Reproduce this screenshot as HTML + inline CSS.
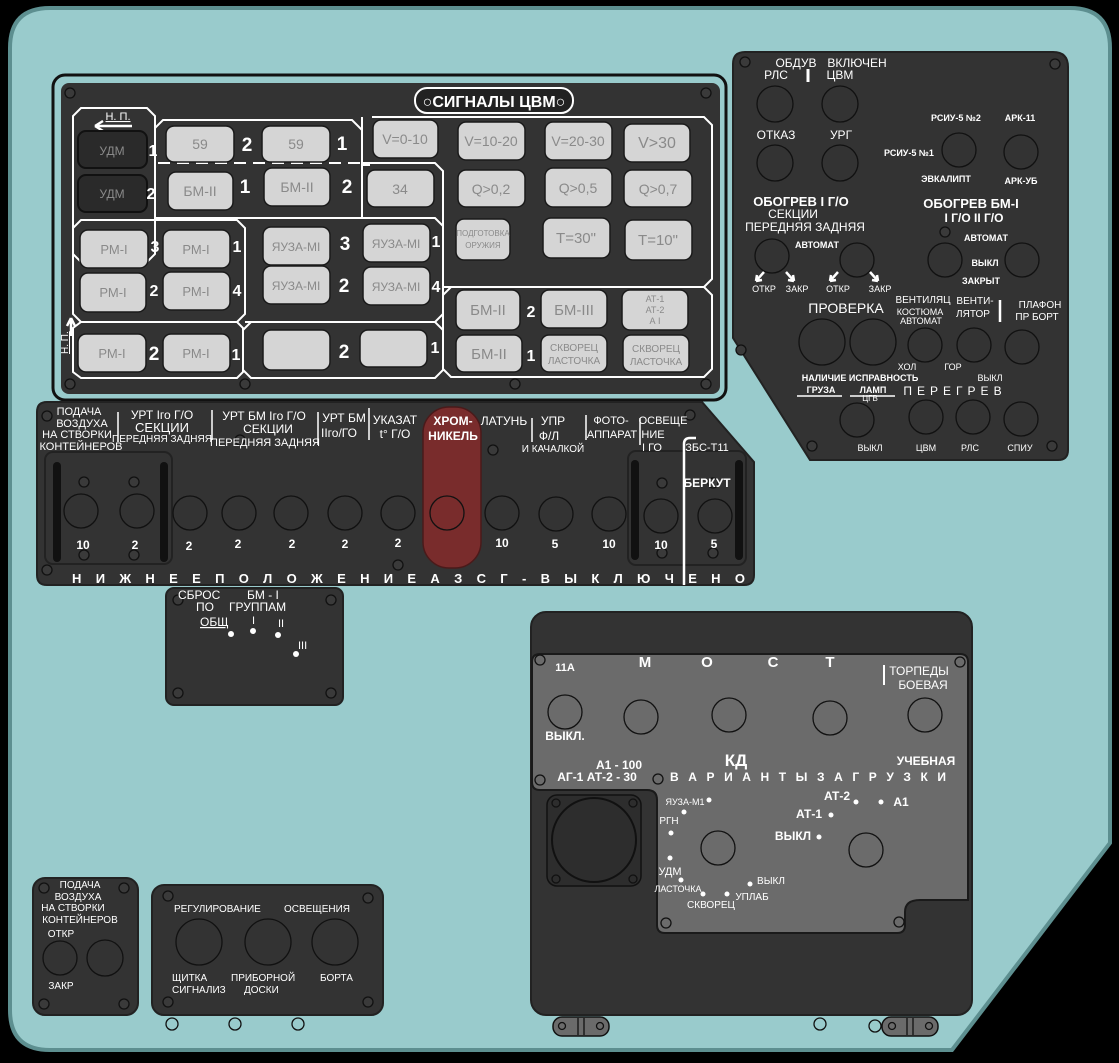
<!DOCTYPE html>
<html><head><meta charset="utf-8"><style>
html,body{margin:0;padding:0;background:#000;}
svg{display:block;}
text{font-family:"Liberation Sans","DejaVu Sans",sans-serif;}
.w{fill:#fff;}
.b{fill:#fff;font-weight:bold;}
.g{fill:#8a8a8a;}
.btn{fill:#d5d5d5;stroke:#1a1a1a;stroke-width:1.5;}
.dbtn{fill:#2a2a2a;stroke:#111;stroke-width:2;}
.k{fill:none;stroke:#111;stroke-width:1.3;}
.sc{fill:#3a3a3a;stroke:#111;stroke-width:1.3;}
.wl{fill:none;stroke:#fff;stroke-width:2;}
</style></head><body>
<svg width="1119" height="1063" viewBox="0 0 1119 1063" xmlns="http://www.w3.org/2000/svg">
<rect width="1119" height="1063" fill="#000"/>
<path d="M50,8 H1070 Q1110,8 1110,48 V843 L952,1050 H50 Q10,1050 10,1010 V48 Q10,8 50,8 Z" fill="#99cbcc" stroke="#5d8f90" stroke-width="4"/>

<!-- SIGNAL PANEL -->
<rect x="53" y="75" width="673" height="325" rx="12" fill="#99cbcc" stroke="#111" stroke-width="3"/>
<rect x="61" y="83" width="659" height="311" rx="8" fill="#333"/>
<g class="sc"><circle cx="70" cy="93" r="5"/><circle cx="706" cy="93" r="5"/><circle cx="70" cy="384" r="5"/><circle cx="706" cy="384" r="5"/><circle cx="245" cy="384" r="5"/><circle cx="515" cy="384" r="5"/></g>
<rect x="415" y="88" width="158" height="25" rx="12" fill="#222" stroke="#fff" stroke-width="2"/>
<text x="494" y="107" class="b" font-size="16" text-anchor="middle">○СИГНАЛЫ ЦВМ○</text>

<g class="wl">
<path d="M81,108 H147 L155,116 V254 L147,262 H81 L73,254 V116 Z"/>
<path d="M163,120 H352 L362,130 V218 H155 V128 Z"/>
<path d="M372,117 H704 L712,125 V279 L704,287 H443"/>
<path d="M362,163 H435 L443,171 V287"/>
<path d="M81,220 H237 L245,228 V314 L237,322 H81 L73,314 V228 Z"/>
<path d="M245,218 H435 L443,226 V314 L435,322 H245"/>
<path d="M451,287 H704 L712,295 V369 L704,377 H451 L443,369 V295 Z"/>
<path d="M81,322 H237 L243,328 V372 L237,378 H81 L73,372 V328 Z"/>
<path d="M251,322 H435 L443,330 V370 L435,378 H251 L243,370 V330 Z"/>
<path d="M362,130 V117" />
</g>
<line x1="158" y1="163" x2="362" y2="163" stroke="#fff" stroke-width="2" stroke-dasharray="12,7"/>
<line x1="362" y1="165" x2="370" y2="165" stroke="#fff" stroke-width="2"/>
<text x="118" y="120" class="w" font-size="11" text-anchor="middle" text-decoration="underline">Н. П.</text>
<path d="M95,126 H132 M95,126 L103,121 M95,126 L103,131" stroke="#fff" stroke-width="2.5" fill="none"/>
<text x="68" y="354" class="w" font-size="10" transform="rotate(-90 68 354)" text-decoration="underline">Н. П.</text>
<path d="M71,336 V318 M71,318 L67,326 M71,318 L75,326" stroke="#fff" stroke-width="2.5" fill="none"/>

<g>
<rect class="dbtn" x="78" y="131" width="69" height="37" rx="8"/><text x="112" y="155" class="g" font-size="12" text-anchor="middle">УДМ</text>
<rect class="dbtn" x="78" y="175" width="69" height="37" rx="8"/><text x="112" y="198" class="g" font-size="12" text-anchor="middle">УДМ</text>
<text x="153" y="156" class="b" font-size="16" text-anchor="middle">1</text>
<text x="151" y="199" class="b" font-size="16" text-anchor="middle">2</text>
</g>
<g font-size="14" text-anchor="middle">
<rect class="btn" x="166" y="126" width="68" height="36" rx="8"/><text x="200" y="149" class="g">59</text>
<rect class="btn" x="262" y="126" width="68" height="36" rx="8"/><text x="296" y="149" class="g">59</text>
<rect class="btn" x="168" y="172" width="65" height="38" rx="8"/><text x="200" y="196" class="g">БМ-II</text>
<rect class="btn" x="264" y="168" width="66" height="38" rx="8"/><text x="297" y="192" class="g">БМ-II</text>
<rect class="btn" x="367" y="170" width="67" height="37" rx="8"/><text x="400" y="194" class="g">34</text>
<rect class="btn" x="373" y="120" width="65" height="38" rx="8"/><text x="405" y="144" class="g">V=0-10</text>
<rect class="btn" x="458" y="122" width="67" height="38" rx="8"/><text x="491" y="146" class="g">V=10-20</text>
<rect class="btn" x="545" y="122" width="67" height="38" rx="8"/><text x="578" y="146" class="g">V=20-30</text>
<rect class="btn" x="624" y="124" width="66" height="38" rx="8"/><text x="657" y="148" class="g" font-size="16">V&gt;30</text>
<rect class="btn" x="458" y="170" width="67" height="37" rx="8"/><text x="491" y="194" class="g">Q&gt;0,2</text>
<rect class="btn" x="545" y="168" width="67" height="39" rx="8"/><text x="578" y="193" class="g">Q&gt;0,5</text>
<rect class="btn" x="624" y="170" width="68" height="37" rx="8"/><text x="658" y="194" class="g">Q&gt;0,7</text>
<rect class="btn" x="456" y="219" width="54" height="41" rx="8"/><text x="483" y="236" class="g" font-size="8">ПОДГОТОВКА</text><text x="483" y="248" class="g" font-size="8">ОРУЖИЯ</text>
<rect class="btn" x="543" y="218" width="67" height="40" rx="8"/><text x="576" y="243" class="g" font-size="15">T=30"</text>
<rect class="btn" x="625" y="220" width="67" height="40" rx="8"/><text x="658" y="245" class="g" font-size="15">T=10"</text>
<rect class="btn" x="80" y="230" width="68" height="38" rx="8"/><text x="114" y="254" class="g" font-size="13">РМ-I</text>
<rect class="btn" x="163" y="230" width="67" height="38" rx="8"/><text x="196" y="254" class="g" font-size="13">РМ-I</text>
<rect class="btn" x="80" y="273" width="66" height="39" rx="8"/><text x="113" y="297" class="g" font-size="13">РМ-I</text>
<rect class="btn" x="163" y="272" width="67" height="38" rx="8"/><text x="196" y="296" class="g" font-size="13">РМ-I</text>
<rect class="btn" x="263" y="227" width="67" height="38" rx="8"/><text x="296" y="251" class="g" font-size="12">ЯУЗА-МI</text>
<rect class="btn" x="363" y="224" width="67" height="38" rx="8"/><text x="396" y="248" class="g" font-size="12">ЯУЗА-МI</text>
<rect class="btn" x="263" y="266" width="67" height="38" rx="8"/><text x="296" y="290" class="g" font-size="12">ЯУЗА-МI</text>
<rect class="btn" x="363" y="267" width="67" height="38" rx="8"/><text x="396" y="291" class="g" font-size="12">ЯУЗА-МI</text>
<rect class="btn" x="456" y="290" width="64" height="40" rx="8"/><text x="488" y="315" class="g" font-size="15">БМ-II</text>
<rect class="btn" x="541" y="290" width="66" height="38" rx="8"/><text x="574" y="315" class="g" font-size="15">БМ-III</text>
<rect class="btn" x="622" y="290" width="66" height="40" rx="8"/><text x="655" y="302" class="g" font-size="9">АТ-1</text><text x="655" y="313" class="g" font-size="9">АТ-2</text><text x="655" y="324" class="g" font-size="9">А I</text>
<rect class="btn" x="456" y="335" width="66" height="37" rx="8"/><text x="489" y="359" class="g" font-size="15">БМ-II</text>
<rect class="btn" x="541" y="335" width="66" height="37" rx="8"/><text x="574" y="351" class="g" font-size="10">СКВОРЕЦ</text><text x="574" y="364" class="g" font-size="10">ЛАСТОЧКА</text>
<rect class="btn" x="623" y="335" width="66" height="37" rx="8"/><text x="656" y="352" class="g" font-size="10">СКВОРЕЦ</text><text x="656" y="365" class="g" font-size="10">ЛАСТОЧКА</text>
<rect class="btn" x="78" y="334" width="68" height="38" rx="8"/><text x="112" y="358" class="g" font-size="13">РМ-I</text>
<rect class="btn" x="163" y="334" width="67" height="38" rx="8"/><text x="196" y="358" class="g" font-size="13">РМ-I</text>
<rect class="btn" x="263" y="330" width="67" height="40" rx="8"/>
<rect class="btn" x="360" y="330" width="67" height="37" rx="8"/>
</g>
<g class="b" font-size="19" text-anchor="middle">
<text x="247" y="151">2</text><text x="342" y="150">1</text>
<text x="245" y="193">1</text><text x="347" y="193">2</text>
<text x="155" y="252" font-size="16">3</text><text x="237" y="252" font-size="16">1</text>
<text x="154" y="296" font-size="16">2</text><text x="237" y="296" font-size="16">4</text>
<text x="345" y="250">3</text><text x="436" y="247" font-size="16">1</text>
<text x="344" y="292">2</text><text x="436" y="292" font-size="16">4</text>
<text x="531" y="317" font-size="16">2</text><text x="531" y="361" font-size="16">1</text>
<text x="154" y="360">2</text><text x="236" y="360" font-size="16">1</text>
<text x="344" y="358">2</text><text x="435" y="353" font-size="16">1</text>
</g>

<!-- MIDDLE STRIP -->
<path d="M47,402 H702 L754,462 V575 Q754,585 744,585 H47 Q37,585 37,575 V412 Q37,402 47,402 Z" fill="#333" stroke="#222" stroke-width="2"/>
<rect x="423" y="407" width="58" height="161" rx="26" fill="#792c2c" stroke="#4a1a1a" stroke-width="1.5"/>
<rect x="45" y="452" width="127" height="112" rx="8" fill="none" stroke="#222" stroke-width="2"/>
<rect x="628" y="451" width="118" height="114" rx="8" fill="none" stroke="#222" stroke-width="2"/>
<g fill="#111"><rect x="53" y="462" width="8" height="100" rx="4"/><rect x="160" y="462" width="8" height="100" rx="4"/><rect x="631" y="460" width="8" height="100" rx="4"/><rect x="735" y="460" width="8" height="100" rx="4"/></g>
<g class="sc"><circle cx="47" cy="416" r="5"/><circle cx="690" cy="415" r="5"/><circle cx="47" cy="570" r="5"/><circle cx="84" cy="482" r="5"/><circle cx="134" cy="482" r="5"/><circle cx="84" cy="555" r="5"/><circle cx="134" cy="555" r="5"/><circle cx="240" cy="440" r="5"/><circle cx="493" cy="450" r="5"/><circle cx="398" cy="565" r="5"/><circle cx="662" cy="483" r="5"/><circle cx="713" cy="483" r="5"/><circle cx="662" cy="553" r="5"/><circle cx="713" cy="553" r="5"/></g>
<g class="k" stroke-width="1.5">
<circle cx="81" cy="511" r="17"/><circle cx="137" cy="511" r="17"/><circle cx="190" cy="513" r="17"/><circle cx="239" cy="513" r="17"/><circle cx="291" cy="513" r="17"/><circle cx="345" cy="513" r="17"/><circle cx="398" cy="513" r="17"/><circle cx="447" cy="513" r="17"/><circle cx="502" cy="513" r="17"/><circle cx="556" cy="514" r="17"/><circle cx="609" cy="514" r="17"/><circle cx="661" cy="516" r="17"/><circle cx="715" cy="516" r="17"/>
</g>
<g class="b" font-size="12" text-anchor="middle">
<text x="83" y="549">10</text><text x="135" y="549">2</text><text x="189" y="550">2</text><text x="238" y="548">2</text><text x="292" y="548">2</text><text x="345" y="548">2</text><text x="398" y="547">2</text><text x="502" y="547">10</text><text x="555" y="548">5</text><text x="609" y="548">10</text><text x="661" y="549">10</text><text x="714" y="548">5</text>
</g>
<g class="w" font-size="11" text-anchor="middle">
<text x="79" y="415">ПОДАЧА</text><text x="82" y="427">ВОЗДУХА</text><text x="77" y="438">НА СТВОРКИ</text><text x="81" y="450">КОНТЕЙНЕРОВ</text>
<text x="162" y="419" font-size="12">УРТ Iго Г/О</text><text x="162" y="432" font-size="13">СЕКЦИИ</text><text x="162" y="442" font-size="10">ПЕРЕДНЯЯ ЗАДНЯЯ</text>
<text x="264" y="420" font-size="12">УРТ БМ Iго Г/О</text><text x="268" y="433" font-size="12">СЕКЦИИ</text><text x="265" y="446" font-size="11">ПЕРЕДНЯЯ ЗАДНЯЯ</text>
<text x="344" y="422" font-size="12">УРТ БМ</text><text x="339" y="437" font-size="12">IIго/ГО</text>
<text x="395" y="424" font-size="12">УКАЗАТ</text><text x="395" y="438" font-size="12">t° Г/О</text>
<text x="453" y="425" class="b" font-size="12">ХРОМ-</text><text x="453" y="440" class="b" font-size="12">НИКЕЛЬ</text>
<text x="504" y="425" font-size="12">ЛАТУНЬ</text>
<text x="553" y="425" font-size="12">УПР</text><text x="549" y="440" font-size="12">Ф/Л</text><text x="553" y="452" font-size="10">И КАЧАЛКОЙ</text>
<text x="611" y="424" font-size="11">ФОТО-</text><text x="612" y="438" font-size="11">АППАРАТ</text>
<text x="663" y="424" font-size="11">ОСВЕЩЕ</text><text x="653" y="438" font-size="11">НИЕ</text><text x="652" y="451" font-size="11">I ГО</text>
<text x="707" y="451" font-size="11">ЗБС-Т11</text>
<text x="707" y="487" class="b" font-size="12">БЕРКУТ</text>
</g>
<g stroke="#fff" stroke-width="1.5"><line x1="118" y1="412" x2="118" y2="442"/><line x1="212" y1="410" x2="212" y2="440"/><line x1="318" y1="412" x2="318" y2="445"/><line x1="369" y1="408" x2="369" y2="440"/><line x1="532" y1="418" x2="532" y2="442"/><line x1="586" y1="415" x2="586" y2="440"/><line x1="640" y1="418" x2="640" y2="445"/></g>
<path d="M684,585 V444 Q684,438 690,438 H696" stroke="#fff" stroke-width="2.5" fill="none"/>
<text x="72" y="583" class="b" font-size="13" textLength="673" lengthAdjust="spacing">Н И Ж Н Е Е   П О Л О Ж Е Н И Е   А З С Г - В Ы К Л Ю Ч Е Н О</text>

<!-- СБРОС -->
<rect x="166" y="588" width="177" height="117" rx="8" fill="#333" stroke="#222" stroke-width="2"/>
<g class="sc"><circle cx="178" cy="600" r="5"/><circle cx="331" cy="600" r="5"/><circle cx="178" cy="693" r="5"/><circle cx="331" cy="693" r="5"/></g>
<g class="w" font-size="12">
<text x="178" y="599">СБРОС</text><text x="247" y="599">БМ - I</text>
<text x="196" y="611">ПО</text><text x="229" y="611">ГРУППАМ</text>
<text x="200" y="626" text-decoration="underline">ОБЩ</text>
<text x="252" y="624" font-size="11">I</text><text x="278" y="627" font-size="11">II</text><text x="298" y="649" font-size="11">III</text>
</g>
<g class="w"><circle cx="231" cy="634" r="3"/><circle cx="253" cy="631" r="3"/><circle cx="278" cy="635" r="3"/><circle cx="296" cy="654" r="3"/></g>

<!-- RIGHT TOP PANEL -->
<path d="M745,52 H1053 Q1068,52 1068,67 V450 Q1068,460 1058,460 H810 L733,338 V64 Q733,52 745,52 Z" fill="#333" stroke="#222" stroke-width="2"/>
<g class="sc"><circle cx="745" cy="62" r="5"/><circle cx="1055" cy="64" r="5"/><circle cx="741" cy="350" r="5"/><circle cx="812" cy="446" r="5"/><circle cx="1052" cy="446" r="5"/><circle cx="945" cy="232" r="5"/></g>
<g class="k">
<circle cx="775" cy="104" r="18"/><circle cx="840" cy="104" r="18"/><circle cx="775" cy="163" r="18"/><circle cx="840" cy="163" r="18"/>
<circle cx="959" cy="150" r="17"/><circle cx="1021" cy="152" r="17"/>
<circle cx="772" cy="256" r="17"/><circle cx="857" cy="260" r="17"/><circle cx="945" cy="260" r="17"/><circle cx="1022" cy="260" r="17"/>
<circle cx="822" cy="342" r="23"/><circle cx="873" cy="342" r="23"/><circle cx="925" cy="345" r="17"/><circle cx="974" cy="345" r="17"/><circle cx="1022" cy="347" r="17"/>
<circle cx="857" cy="420" r="17"/><circle cx="926" cy="417" r="17"/><circle cx="973" cy="417" r="17"/><circle cx="1021" cy="419" r="17"/>
</g>
<g class="w" font-size="12" text-anchor="middle">
<text x="796" y="67">ОБДУВ</text><text x="857" y="67">ВКЛЮЧЕН</text>
<text x="776" y="79">РЛС</text><text x="840" y="79">ЦВМ</text>
<text x="776" y="139">ОТКАЗ</text><text x="841" y="139">УРГ</text>
<text x="956" y="121" class="b" font-size="9">РСИУ-5 №2</text><text x="1020" y="121" class="b" font-size="9">АРК-11</text>
<text x="909" y="156" class="b" font-size="9">РСИУ-5 №1</text>
<text x="946" y="182" class="b" font-size="9">ЭВКАЛИПТ</text><text x="1021" y="184" class="b" font-size="9">АРК-УБ</text>
<text x="801" y="206" class="b" font-size="13">ОБОГРЕВ I   Г/О</text>
<text x="793" y="218" font-size="12">СЕКЦИИ</text>
<text x="805" y="231" font-size="12">ПЕРЕДНЯЯ    ЗАДНЯЯ</text>
<text x="817" y="248" class="b" font-size="9">АВТОМАТ</text>
<text x="971" y="208" class="b" font-size="13">ОБОГРЕВ   БМ-I</text>
<text x="974" y="222" class="b" font-size="12">I Г/О      II Г/О</text>
<text x="986" y="241" class="b" font-size="9">АВТОМАТ</text>
<text x="985" y="266" class="b" font-size="9">ВЫКЛ</text>
<text x="981" y="284" class="b" font-size="9">ЗАКРЫТ</text>
<text x="764" y="292" font-size="9">ОТКР</text><text x="797" y="292" font-size="9">ЗАКР</text><text x="838" y="292" font-size="9">ОТКР</text><text x="880" y="292" font-size="9">ЗАКР</text>
<text x="846" y="313" font-size="14">ПРОВЕРКА</text>
<text x="923" y="303" font-size="10">ВЕНТИЛЯЦ</text><text x="920" y="315" font-size="9">КОСТЮМА</text><text x="921" y="324" font-size="9">АВТОМАТ</text>
<text x="975" y="304" font-size="10">ВЕНТИ-</text><text x="973" y="317" font-size="10">ЛЯТОР</text>
<text x="1040" y="308" font-size="10">ПЛАФОН</text><text x="1037" y="320" font-size="10">ПР БОРТ</text>
<text x="907" y="370" font-size="9">ХОЛ</text><text x="953" y="370" font-size="9">ГОР</text>
<text x="860" y="381" class="b" font-size="9">НАЛИЧИЕ ИСПРАВНОСТЬ</text>
<text x="821" y="393" class="b" font-size="9">ГРУЗА</text><text x="873" y="393" class="b" font-size="9">ЛАМП</text><text x="870" y="401" font-size="8">ЦГВ</text>
<text x="990" y="381" font-size="9">ВЫКЛ</text>
<text x="955" y="395" font-size="12" letter-spacing="5">ПЕРЕГРЕВ</text>
<text x="870" y="451" font-size="9">ВЫКЛ</text><text x="926" y="451" font-size="9">ЦВМ</text><text x="970" y="451" font-size="9">РЛС</text><text x="1020" y="451" font-size="9">СПИУ</text>
</g>
<g stroke="#fff" stroke-width="1.5"><line x1="808" y1="69" x2="808" y2="82" stroke-width="3"/><line x1="1000" y1="300" x2="1000" y2="322" stroke-width="2.5"/><line x1="797" y1="396" x2="842" y2="396"/><line x1="850" y1="396" x2="895" y2="396"/></g>
<g stroke="#fff" stroke-width="2.5" fill="#fff">
<path d="M764,272 L756,281 M756,281 l1,-6 M756,281 l6,-1"/>
<path d="M786,272 L794,281 M794,281 l-1,-6 M794,281 l-6,-1"/>
<path d="M838,272 L830,281 M830,281 l1,-6 M830,281 l6,-1"/>
<path d="M870,272 L878,281 M878,281 l-1,-6 M878,281 l-6,-1"/>
</g>

<!-- BOTTOM RIGHT PANEL -->
<rect x="531" y="612" width="441" height="403" rx="15" fill="#333" stroke="#222" stroke-width="2"/>
<path d="M540,654 H960 Q968,654 968,662 V900 H920 Q905,900 905,912 V925 Q905,933 897,933 H665 Q657,933 657,925 V800 Q657,790 647,790 H540 Q532,790 532,782 V662 Q532,654 540,654 Z" fill="#6b6b6b" stroke="#1a1a1a" stroke-width="2"/>
<g class="sc" fill="#6b6b6b"><circle cx="540" cy="660" r="5" fill="#6b6b6b"/><circle cx="540" cy="780" r="5" fill="#6b6b6b"/><circle cx="658" cy="779" r="5" fill="#6b6b6b"/><circle cx="960" cy="662" r="5" fill="#6b6b6b"/><circle cx="666" cy="923" r="5" fill="#6b6b6b"/><circle cx="899" cy="922" r="5" fill="#6b6b6b"/></g>
<rect x="547" y="795" width="94" height="91" rx="10" fill="#2d2d2d" stroke="#111" stroke-width="1.5"/>
<circle cx="594" cy="840" r="42" fill="#2d2d2d" stroke="#111" stroke-width="2"/>
<g class="k"><circle cx="556" cy="803" r="4"/><circle cx="633" cy="803" r="4"/><circle cx="556" cy="879" r="4"/><circle cx="633" cy="879" r="4"/></g>
<g class="k">
<circle cx="565" cy="712" r="17"/><circle cx="641" cy="717" r="17"/><circle cx="729" cy="715" r="17"/><circle cx="830" cy="718" r="17"/><circle cx="925" cy="715" r="17"/>
<circle cx="718" cy="848" r="17"/><circle cx="866" cy="850" r="17"/>
</g>
<g class="w" text-anchor="middle">
<text x="565" y="671" class="b" font-size="11">11A</text>
<text x="645" y="667" class="b" font-size="15">М</text><text x="707" y="667" class="b" font-size="15">О</text><text x="773" y="667" class="b" font-size="15">С</text><text x="830" y="667" class="b" font-size="15">Т</text>
<text x="919" y="675" font-size="12">ТОРПЕДЫ</text><text x="923" y="689" font-size="12">БОЕВАЯ</text>
<text x="565" y="740" class="b" font-size="12">ВЫКЛ.</text>
<text x="619" y="769" class="b" font-size="12">А1 - 100</text>
<text x="597" y="781" class="b" font-size="12">АГ-1 АТ-2 - 30</text>
<text x="736" y="766" class="b" font-size="17">КД</text>
<text x="926" y="765" class="b" font-size="12">УЧЕБНАЯ</text>
<text x="837" y="800" class="b" font-size="12">АТ-2</text><text x="901" y="806" class="b" font-size="12">А1</text>
<text x="809" y="818" class="b" font-size="12">АТ-1</text><text x="793" y="840" class="b" font-size="12">ВЫКЛ</text>
<text x="685" y="805" font-size="9">ЯУЗА-М1</text><text x="669" y="824" font-size="10">РГН</text>
<text x="670" y="875" font-size="11">УДМ</text><text x="678" y="892" font-size="9">ЛАСТОЧКА</text>
<text x="711" y="908" font-size="10">СКВОРЕЦ</text><text x="752" y="900" font-size="10">УПЛАБ</text><text x="771" y="884" font-size="10">ВЫКЛ</text>
</g>
<text x="670" y="781" class="b" font-size="12" textLength="276" lengthAdjust="spacing">В А Р И А Н Т Ы   З А Г Р У З К И</text>
<line x1="884" y1="665" x2="884" y2="685" stroke="#fff" stroke-width="2"/>
<g class="w"><circle cx="709" cy="800" r="2.5"/><circle cx="684" cy="812" r="2.5"/><circle cx="671" cy="833" r="2.5"/><circle cx="670" cy="858" r="2.5"/><circle cx="681" cy="880" r="2.5"/><circle cx="703" cy="894" r="2.5"/><circle cx="727" cy="894" r="2.5"/><circle cx="750" cy="884" r="2.5"/><circle cx="856" cy="802" r="2.5"/><circle cx="881" cy="802" r="2.5"/><circle cx="831" cy="815" r="2.5"/><circle cx="819" cy="837" r="2.5"/></g>

<!-- hinges -->
<g>
<rect x="553" y="1017" width="56" height="19" rx="9" fill="#6b6b6b" stroke="#111" stroke-width="1.5"/><circle cx="562" cy="1026" r="3.5" class="k"/><circle cx="600" cy="1026" r="3.5" class="k"/><line x1="578" y1="1018" x2="578" y2="1035" stroke="#111" stroke-width="1.3"/><line x1="584" y1="1018" x2="584" y2="1035" stroke="#111" stroke-width="1.3"/>
<rect x="882" y="1017" width="56" height="19" rx="9" fill="#6b6b6b" stroke="#111" stroke-width="1.5"/><circle cx="892" cy="1026" r="3.5" class="k"/><circle cx="929" cy="1026" r="3.5" class="k"/><line x1="907" y1="1018" x2="907" y2="1035" stroke="#111" stroke-width="1.3"/><line x1="913" y1="1018" x2="913" y2="1035" stroke="#111" stroke-width="1.3"/>
<circle cx="820" cy="1024" r="6" class="k" stroke-width="1.8"/><circle cx="875" cy="1026" r="6" class="k" stroke-width="1.8"/>
</g>

<!-- BOTTOM LEFT -->
<rect x="33" y="878" width="105" height="137" rx="12" fill="#333" stroke="#222" stroke-width="2"/>
<g class="sc"><circle cx="44" cy="888" r="5"/><circle cx="124" cy="888" r="5"/><circle cx="44" cy="1004" r="5"/><circle cx="124" cy="1004" r="5"/></g>
<g class="k"><circle cx="60" cy="958" r="17"/><circle cx="105" cy="958" r="18"/></g>
<g class="w" font-size="10" text-anchor="middle">
<text x="80" y="888">ПОДАЧА</text><text x="78" y="900">ВОЗДУХА</text><text x="73" y="911">НА СТВОРКИ</text><text x="80" y="923">КОНТЕЙНЕРОВ</text>
<text x="61" y="937">ОТКР</text><text x="61" y="989">ЗАКР</text>
</g>
<rect x="152" y="885" width="231" height="130" rx="12" fill="#333" stroke="#222" stroke-width="2"/>
<g class="sc"><circle cx="168" cy="896" r="5"/><circle cx="368" cy="898" r="5"/><circle cx="168" cy="1002" r="5"/><circle cx="368" cy="1002" r="5"/></g>
<g class="k"><circle cx="199" cy="942" r="23"/><circle cx="268" cy="942" r="23"/><circle cx="335" cy="942" r="23"/></g>
<g class="w" font-size="10">
<text x="174" y="912">РЕГУЛИРОВАНИЕ</text><text x="284" y="912">ОСВЕЩЕНИЯ</text>
<text x="172" y="981">ЩИТКА</text><text x="172" y="993">СИГНАЛИЗ</text>
<text x="231" y="981">ПРИБОРНОЙ</text><text x="244" y="993">ДОСКИ</text>
<text x="320" y="981">БОРТА</text>
</g>
<g class="k" stroke-width="1.8"><circle cx="172" cy="1024" r="6"/><circle cx="235" cy="1024" r="6"/><circle cx="298" cy="1024" r="6"/></g>
</svg>
</body></html>
